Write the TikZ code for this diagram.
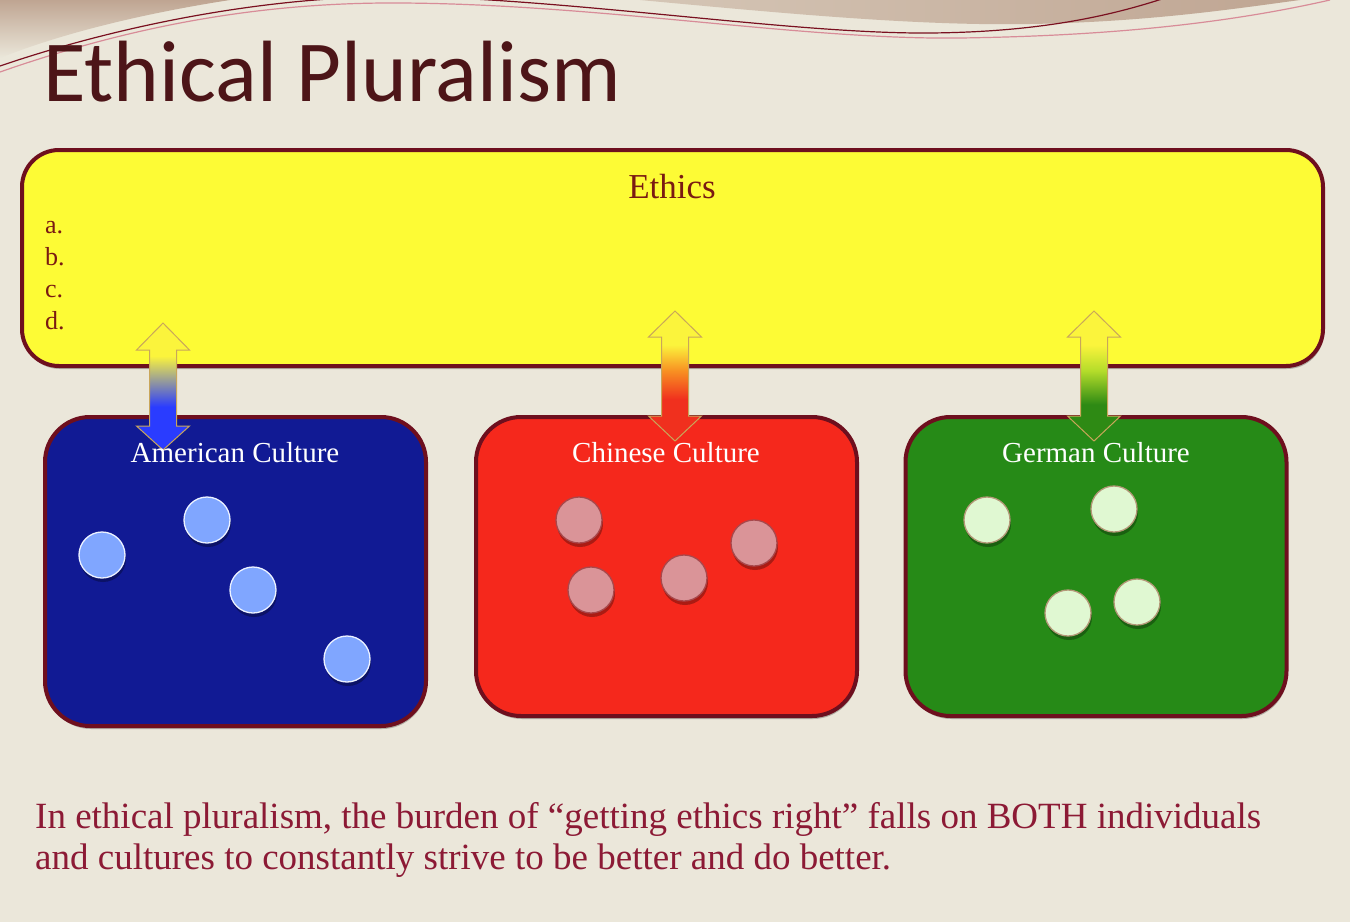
\documentclass[tikz,border=0pt]{standalone}
\usepackage{fontspec}
\setmainfont{Liberation Serif}
\newfontfamily\titlefont{Carlito}
\usetikzlibrary{shadows}

% palette
\definecolor{bgbeige}{HTML}{EBE7DA}
\definecolor{swirlbrown}{HTML}{BFA592}
\definecolor{swirldark}{HTML}{7A1020}
\definecolor{swirlpink}{HTML}{D88C98}
\definecolor{titlemaroon}{HTML}{4D1518}
\definecolor{rimmaroon}{HTML}{6E0F1E}
\definecolor{ethyellow}{HTML}{FDFB35}
\definecolor{ethtext}{HTML}{7A1A12}
\definecolor{notetext}{HTML}{8C1A35}
\definecolor{ambox}{HTML}{111A94}
\definecolor{cnbox}{HTML}{F5281C}
\definecolor{debox}{HTML}{268A17}
\definecolor{amdot}{HTML}{80A6FF}
\definecolor{cndot}{HTML}{DA9498}
\definecolor{cndotrim}{HTML}{A8484C}
\definecolor{dedot}{HTML}{E0F8D2}
\definecolor{dedotrim}{HTML}{B49878}
\definecolor{arryel}{HTML}{FBF43C}
\definecolor{arrblue}{HTML}{2A3CFF}
\definecolor{arrorange}{HTML}{F89022}
\definecolor{arrred}{HTML}{F0301E}
\definecolor{arrlime}{HTML}{B4DC2A}
\definecolor{arrgreen}{HTML}{2E8A14}
\definecolor{arrowrim}{HTML}{C9A65A}

% gradients for the two-headed arrows (bottom to top)
\pgfdeclareverticalshading{amshade}{100bp}{color(0bp)=(arrblue); color(42bp)=(arrblue); color(62bp)=(arryel); color(100bp)=(arryel)}
\pgfdeclareverticalshading{cnshade}{100bp}{color(0bp)=(arrred); color(41bp)=(arrred); color(52bp)=(arrorange); color(62bp)=(arryel); color(100bp)=(arryel)}
\pgfdeclareverticalshading{deshade}{100bp}{color(0bp)=(arrgreen); color(39bp)=(arrgreen); color(52bp)=(arrlime); color(62bp)=(arryel); color(100bp)=(arryel)}

% vertical double arrow: #1 shading, #2 centre x, #3 top tip, #4 top head base,
% #5 bottom head base, #6 bottom tip
\newcommand\dualarrow[6]{%
  \shadedraw[shading=#1, draw=arrowrim, line width=1pt, line join=miter]
    (#2,#3) -- (#2+26.5,#4) -- (#2+13.5,#4) -- (#2+13.5,#5) -- (#2+26.5,#5)
    -- (#2,#6) -- (#2-26.5,#5) -- (#2-13.5,#5) -- (#2-13.5,#4) -- (#2-26.5,#4) -- cycle;}

\tikzset{
  panel/.style={rectangle, draw=rimmaroon, line width=4pt, inner sep=0pt,
    drop shadow={shadow xshift=1pt, shadow yshift=-3pt, opacity=0.25, fill=black}},
  culturebox/.style={panel, minimum width=381pt, minimum height=299pt, rounded corners=45pt},
  culturetitle/.style={anchor=base, inner sep=0pt, text=white,
    font=\fontsize{29}{34}\selectfont},
  dot/.style={circle, minimum size=46pt, inner sep=0pt, line width=1.3pt,
    drop shadow={shadow xshift=1pt, shadow yshift=-4pt, opacity=0.3, fill=black}},
  amdotstyle/.style={dot, fill=amdot, draw=white!85!amdot},
  cndotstyle/.style={dot, fill=cndot, draw=cndotrim},
  dedotstyle/.style={dot, fill=dedot, draw=dedotrim},
  itemlabel/.style={anchor=base west, inner sep=0pt, text=ethtext,
    font=\fontsize{26}{30}\selectfont},
}

\begin{document}
\begin{tikzpicture}[x=1pt, y=-1pt]
  % slide background
  \fill[bgbeige] (0,0) rectangle (1350,922);
  \useasboundingbox (0,0) rectangle (1350,922);

  % swirl ornament along the top edge
  \shade[top color=swirlbrown, bottom color=bgbeige]
    (0,0) -- (230,0) .. controls (140,14) and (60,34) .. (0,58) -- cycle;
  \shade[left color=swirlbrown!50!bgbeige, right color=swirlbrown]
    (640,0) .. controls (790,14) and (920,26) .. (1030,24)
    .. controls (1150,22) and (1240,8) .. (1300,0) -- cycle;
  \draw[swirlpink, line width=1.2pt]
    (0,72) .. controls (120,30) and (250,2) .. (400,3)
    .. controls (600,4) and (800,40) .. (960,38)
    .. controls (1100,36) and (1220,25) .. (1330,0);
  \draw[swirldark, line width=1.2pt]
    (0,66) .. controls (120,25) and (280,-8) .. (430,-3)
    .. controls (600,3) and (800,34) .. (930,33)
    .. controls (1040,32) and (1110,16) .. (1165,-2);

  % title
  \node[anchor=base west, inner sep=0pt, text=titlemaroon,
        font=\titlefont\fontsize{87}{100}\selectfont] (title) at (43,101) {Ethical Pluralism};

  % ethics panel
  \node[panel, fill=ethyellow, minimum width=1301pt, minimum height=216pt,
        rounded corners=37pt] (ethics) at (672.5,258) {};
  \node[anchor=base, inner sep=0pt, text=ethtext, font=\fontsize{35}{40}\selectfont]
    (ethicstitle) at (672,198) {Ethics};
  \node[itemlabel] (itema) at (45,233) {a.};
  \node[itemlabel] (itemb) at (45,265) {b.};
  \node[itemlabel] (itemc) at (45,297) {c.};
  \node[itemlabel] (itemd) at (45,329) {d.};

  % culture panels
  \node[culturebox, fill=ambox, minimum height=309pt] (american) at (235.5,571.5) {};
  \node[culturebox, fill=cnbox] (chinese) at (666.5,566.5) {};
  \node[culturebox, fill=debox] (german) at (1096,566.5) {};

  % links between ethics and each culture
  \dualarrow{amshade}{163}{323}{350}{426}{450}
  \dualarrow{cnshade}{675}{311}{337}{416}{441}
  \dualarrow{deshade}{1094}{311}{337}{416}{441}

  \node[culturetitle] (amtitle) at (235,462) {American Culture};
  \node[culturetitle] (cntitle) at (666,462) {Chinese Culture};
  \node[culturetitle] (detitle) at (1096,462) {German Culture};

  % members of each culture
  \node[amdotstyle] (am1) at (102,555) {};
  \node[amdotstyle] (am2) at (207,520) {};
  \node[amdotstyle] (am3) at (253,590) {};
  \node[amdotstyle] (am4) at (347,659) {};

  \node[cndotstyle] (cn1) at (579,520) {};
  \node[cndotstyle] (cn2) at (591,590) {};
  \node[cndotstyle] (cn3) at (684,578) {};
  \node[cndotstyle] (cn4) at (754,543) {};

  \node[dedotstyle] (de1) at (987,520) {};
  \node[dedotstyle] (de2) at (1114,509) {};
  \node[dedotstyle] (de3) at (1068,613) {};
  \node[dedotstyle] (de4) at (1137,602) {};

  % closing remark (base anchor sits on the last line)
  \node[anchor=base west, align=left, inner sep=0pt, text=notetext,
        font=\fontsize{37}{41}\selectfont] (note) at (35,869)
    {In ethical pluralism, the burden of “getting ethics right” falls on BOTH individuals\\
     and cultures to constantly strive to be better and do better.};
\end{tikzpicture}
\end{document}
